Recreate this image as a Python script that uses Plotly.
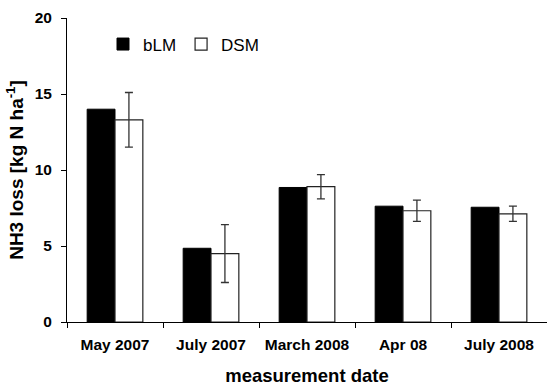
import plotly.graph_objects as go

# NH3 loss per measurement date for the two slurry treatments
dates = ["May 2007", "July 2007", "March 2008", "Apr 08", "July 2008"]
blm_loss = [14.0, 4.85, 8.85, 7.62, 7.55]
dsm_loss = [13.3, 4.5, 8.9, 7.32, 7.12]
dsm_err = [1.8, 1.9, 0.8, 0.7, 0.5]

FONT = "Liberation Sans, Arial, sans-serif"

fig = go.Figure()
fig.add_trace(go.Bar(
    name="bLM", x=dates, y=blm_loss,
    marker=dict(color="#000000", line=dict(color="#000000", width=1)),
))
fig.add_trace(go.Bar(
    name="DSM", x=dates, y=dsm_loss,
    marker=dict(color="#ffffff", line=dict(color="#222222", width=1.2)),
    error_y=dict(type="data", array=dsm_err, visible=True,
                 color="#333333", thickness=1.3, width=4),
))

fig.update_layout(
    width=547, height=387,
    margin=dict(l=67, r=0, t=18, b=65),
    paper_bgcolor="white", plot_bgcolor="white",
    barmode="group", bargap=0.42, bargroupgap=0,
    font=dict(family=FONT, color="black"),
    showlegend=True,
    legend=dict(
        orientation="h", x=0.075, y=0.972, xanchor="left", yanchor="top",
        font=dict(family=FONT, size=17, color="black"),
        bgcolor="rgba(0,0,0,0)", itemwidth=30, tracegroupgap=0,
    ),
    xaxis=dict(
        type="category", showline=True, linecolor="black", linewidth=1,
        ticks="outside", tickson="boundaries", ticklen=5, tickcolor="black",
        tickfont=dict(family=FONT, size=15.5, color="black", weight="bold"),
        ticklabelstandoff=8,
        showgrid=False, zeroline=False,
        title=dict(text="<b>measurement date</b>", standoff=17,
                   font=dict(family=FONT, size=18.5, color="black")),
    ),
    yaxis=dict(
        range=[0, 20], tickvals=[0, 5, 10, 15, 20],
        showline=True, linecolor="black", linewidth=1,
        ticks="outside", ticklen=5, tickcolor="black",
        tickfont=dict(family=FONT, size=15.5, color="black", weight="bold"),
        ticklabelstandoff=6,
        showgrid=False, zeroline=False,
        title=dict(text="<b>NH3 loss [kg N ha<sup>-1</sup>]</b>", standoff=6,
                   font=dict(family=FONT, size=19, color="black")),
    ),
)

fig.write_html("out.html")
